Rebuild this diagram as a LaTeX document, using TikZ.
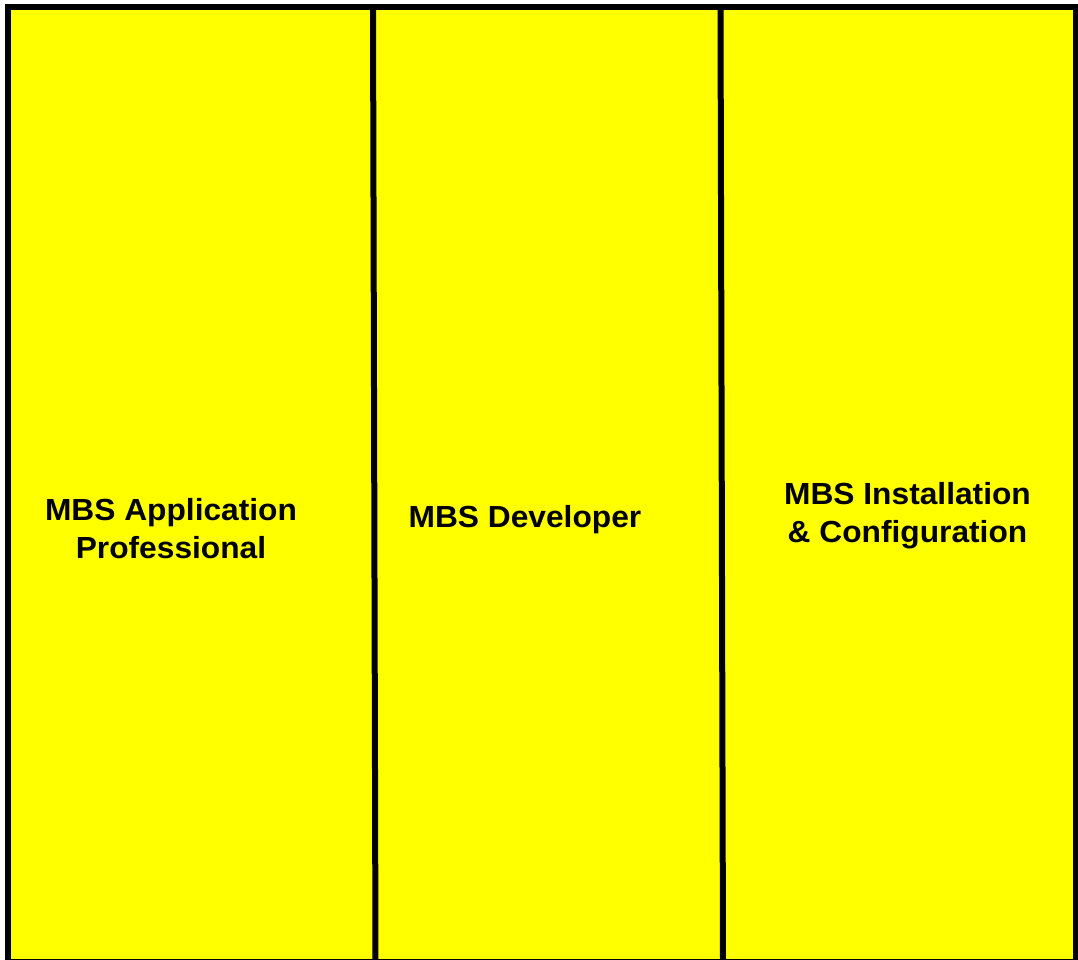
\documentclass[tikz,border=0pt]{standalone}
\usepackage{fontspec}
\setmainfont{Liberation Sans}[FakeStretch=1.04]
\definecolor{laneyellow}{RGB}{255,255,0}
\begin{document}
\begin{tikzpicture}[x=1pt,y=-1pt,
  border/.style={line width=6pt,draw=black},
  lane/.style={font=\bfseries\fontsize{30.5}{38}\selectfont,align=center,inner sep=0pt}]
\useasboundingbox (0,0) rectangle (1078,959);
\fill[laneyellow] (7.5,7) rectangle (1075.5,961);
\coordinate (tl) at (7.5,7);
\coordinate (br) at (1075.5,962);
\draw[border] (tl) rectangle (br);
\coordinate (d1t) at (373,8);
\coordinate (d1b) at (375.5,962);
\coordinate (d2t) at (720.5,8);
\coordinate (d2b) at (723,962);
\draw[border] (d1t) -- (d1b);
\draw[border] (d2t) -- (d2b);
\node[lane] (app) at (171,529) {MBS Application\\Professional};
\node[lane] (dev) at (525,520) {MBS Developer};
\node[lane] (inst) at (907.5,516) {MBS Installation\\\& Configuration};
\end{tikzpicture}
\end{document}
